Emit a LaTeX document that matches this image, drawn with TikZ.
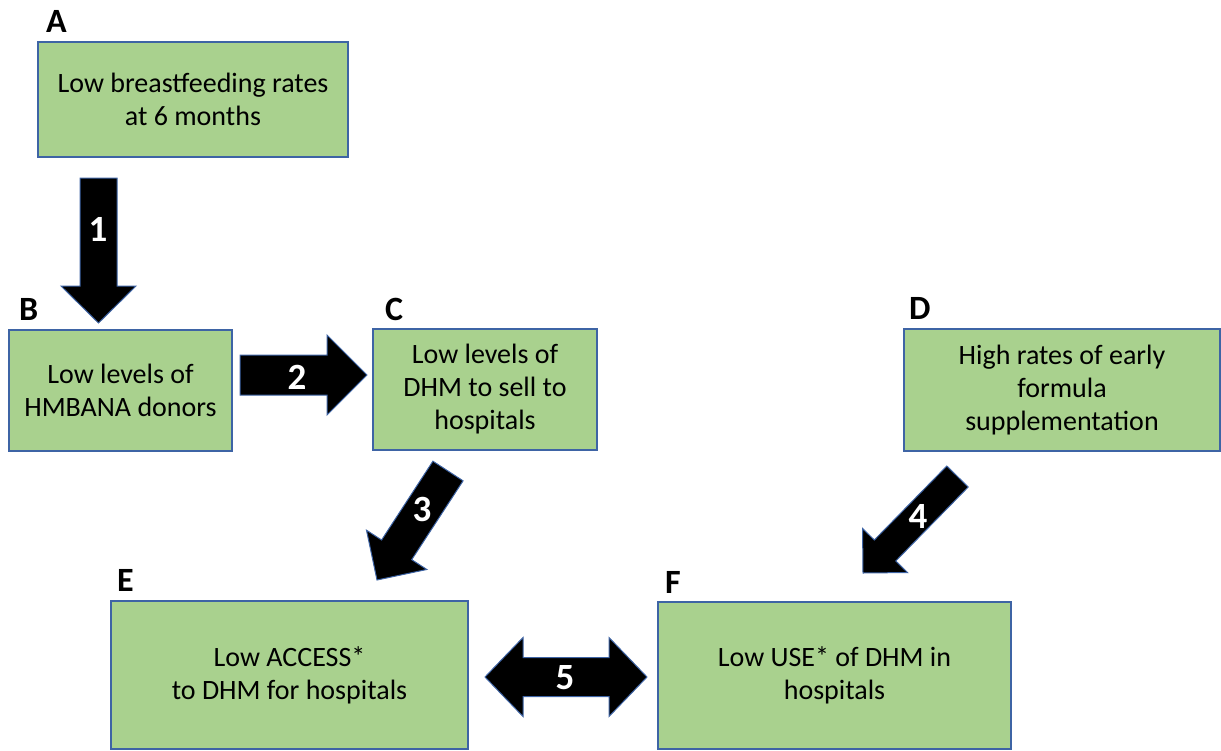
\documentclass[tikz,border=0pt]{standalone}
\usepackage{fontspec}
\setmainfont{Carlito}
\usetikzlibrary{calc}
\definecolor{boxfill}{RGB}{169,209,142}
\definecolor{boxline}{RGB}{62,100,165}
\tikzset{
  box/.style={draw=boxline, fill=boxfill, line width=1.3pt, inner sep=0pt, align=center,
    font=\fontsize{28}{33}\selectfont},
  tag/.style={font=\bfseries\fontsize{34}{40}\selectfont, anchor=base west, inner sep=0pt},
  blk/.style={fill=black, draw=boxline, line width=1pt, line join=miter},
  num/.style={text=white, font=\bfseries\fontsize{37}{42}\selectfont, inner sep=0pt},
}
% #1 start coord, #2 tip coord, #3 shaft half width, #4 head half width, #5 head length
\newcommand\blockarrow[5]{%
  \coordinate (#1h) at ($(#2)!#5!(#1)$);
  \draw[blk] ($(#1)!#3!90:(#2)$) -- ($(#1h)!#3!90:(#2)$) -- ($(#1h)!#4!90:(#2)$)
    -- (#2) -- ($(#1h)!#4!-90:(#2)$) -- ($(#1h)!#3!-90:(#2)$) -- ($(#1)!#3!-90:(#2)$) -- cycle;
}
\begin{document}
\begin{tikzpicture}[x=1pt, y=-1pt]
\useasboundingbox (0,0) rectangle (1221,750);

% boxes
\node[box, minimum width=310pt, minimum height=115pt] (A) at (193,99.5)
  {Low breastfeeding rates\\at 6 months};
\node[box, minimum width=223pt, minimum height=121pt] (B) at (120.5,390.5)
  {Low levels of\\HMBANA donors};
\node[box, minimum width=224pt, minimum height=121pt] (C) at (485,389.5)
  {Low levels of\\DHM to sell to\\hospitals};
\node[box, minimum width=316pt, minimum height=122pt] (D) at (1062,390)
  {High rates of early\\formula\\supplementation};
\node[box, minimum width=357pt, minimum height=148pt] (E) at (289.5,675)
  {Low ACCESS*\\to DHM for hospitals};
\node[box, minimum width=353pt, minimum height=147pt] (F) at (834.5,675.5)
  {Low USE* of DHM in\\hospitals};

% letter tags
\node[tag] (tA) at (46,32) {A};
\node[tag] (tB) at (19,320) {B};
\node[tag] (tC) at (385,320) {C};
\node[tag] (tD) at (909,319) {D};
\node[tag] (tE) at (117,591) {E};
\node[tag] (tF) at (665,593) {F};

% block arrows
\coordinate (s1) at (98.5,178);   \coordinate (t1) at (98.5,323);
\blockarrow{s1}{t1}{18.5pt}{37.5pt}{37pt}
\node[num] (n1) at (98,229) {1};

\coordinate (s2) at (240,375);    \coordinate (t2) at (367,375);
\blockarrow{s2}{t2}{20pt}{40pt}{40pt}
\node[num] (n2) at (297,377) {2};

\coordinate (s3) at (448,471);    \coordinate (t3) at (377,580);
\blockarrow{s3}{t3}{18pt}{36pt}{36pt}
\node[num] (n3) at (422,509) {3};

\coordinate (s4) at (957.5,476.5); \coordinate (t4) at (863,573);
\blockarrow{s4}{t4}{15pt}{31.5pt}{31.5pt}
\node[num] (n4) at (918,516) {4};

% double arrow 5
\coordinate (l5) at (485,677);    \coordinate (r5) at (647,677);
\coordinate (l5h) at ($(l5)!38pt!(r5)$);
\coordinate (r5h) at ($(r5)!38pt!(l5)$);
\draw[blk] (l5) -- ($(l5h)!39.5pt!90:(r5)$) -- ($(l5h)!19.5pt!90:(r5)$)
  -- ($(r5h)!19.5pt!90:(r5)$) -- ($(r5h)!39.5pt!90:(r5)$) -- (r5)
  -- ($(r5h)!39.5pt!-90:(r5)$) -- ($(r5h)!19.5pt!-90:(r5)$)
  -- ($(l5h)!19.5pt!-90:(r5)$) -- ($(l5h)!39.5pt!-90:(r5)$) -- cycle;
\node[num] (n5) at (565,678) {5};
\end{tikzpicture}
\end{document}
